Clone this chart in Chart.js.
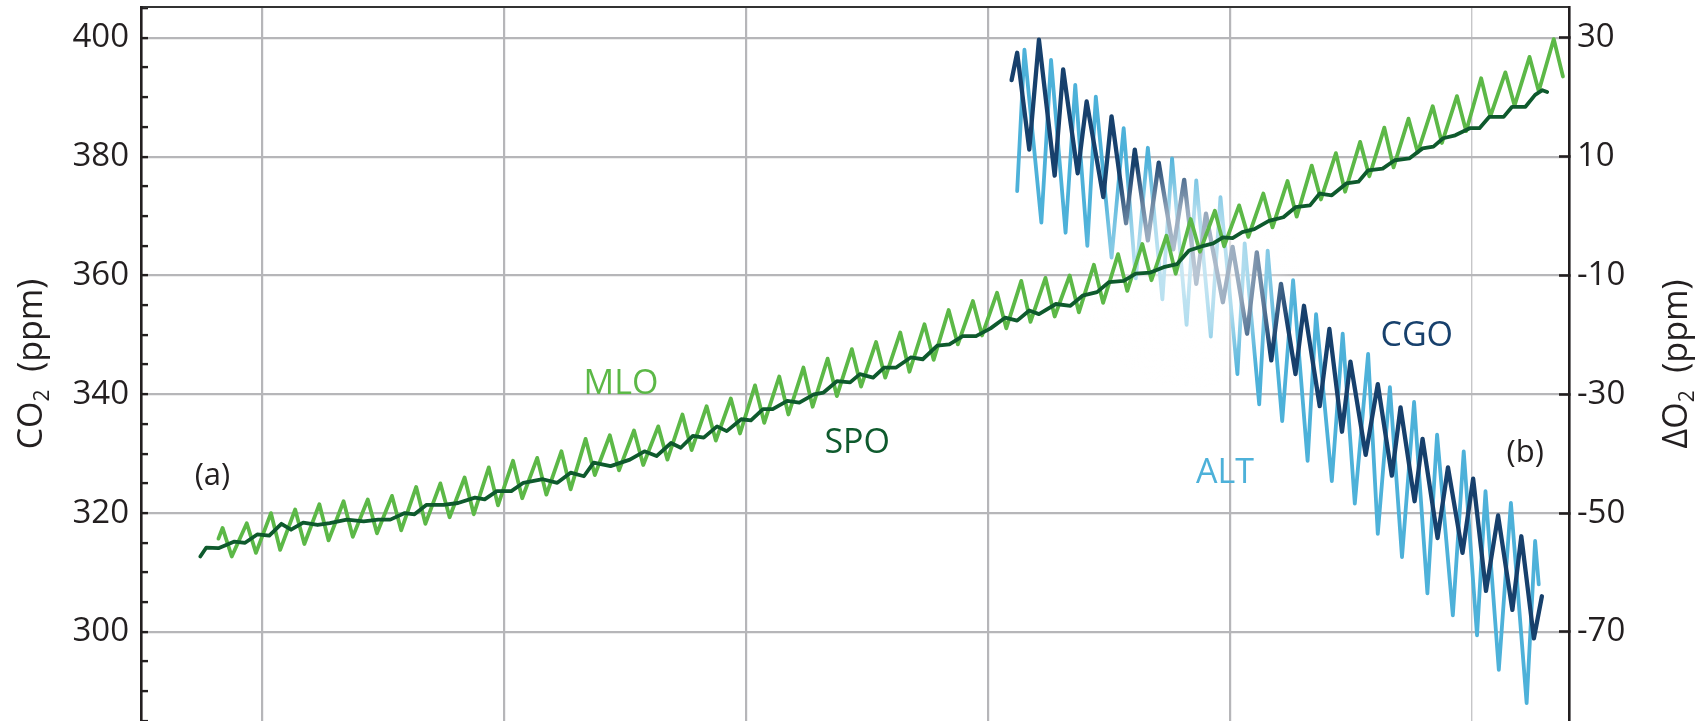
<!DOCTYPE html>
<html>
<head>
<meta charset="utf-8">
<script src="https://cdn.jsdelivr.net/npm/chart.js@4.4.1/dist/chart.umd.min.js"></script>
<style>
  html, body { margin: 0; padding: 0; background: #fff; overflow: hidden; }
  #wrap { width: 1708px; height: 721px; position: relative; }
</style>
</head>
<body>
<div id="wrap"><canvas id="chart"></canvas></div>
<script>
// Mauna Loa CO2 (ppm): yearly spring high and autumn low
const mloYears = [1958, 1959, 1960, 1961, 1962, 1963, 1964, 1965, 1966, 1967, 1968, 1969, 1970, 1971,
  1972, 1973, 1974, 1975, 1976, 1977, 1978, 1979, 1980, 1981, 1982, 1983, 1984, 1985, 1986, 1987,
  1988, 1989, 1990, 1991, 1992, 1993, 1994, 1995, 1996, 1997, 1998, 1999, 2000, 2001, 2002, 2003,
  2004, 2005, 2006, 2007, 2008, 2009, 2010, 2011, 2012, 2013]
const mloHigh = [317.5, 318.3, 320.0, 320.6, 321.5, 322.0, 322.3, 322.9, 324.4, 325.0, 326.0, 327.7,
  328.8, 329.3, 330.4, 332.5, 333.1, 333.9, 334.6, 336.6, 338.0, 339.3, 341.5, 343.0, 344.5, 346.0,
  347.6, 348.8, 350.4, 351.8, 354.2, 355.7, 357.1, 359.1, 359.6, 360.0, 361.8, 363.6, 365.3, 366.7,
  369.5, 370.9, 371.8, 373.8, 375.9, 378.5, 380.6, 382.5, 384.9, 386.4, 388.5, 390.2, 393.2, 394.2,
  396.8, 399.8]
const mloLow = [312.7, 313.3, 313.8, 314.8, 315.4, 316.0, 316.6, 317.1, 318.2, 319.3, 319.8, 321.3,
  322.5, 323.1, 324.0, 326.4, 327.2, 328.1, 329.0, 330.6, 332.2, 333.4, 335.2, 336.6, 337.9, 339.7,
  341.3, 342.8, 343.8, 345.8, 348.4, 349.9, 351.1, 352.2, 353.1, 353.8, 355.4, 357.4, 359.2, 360.3,
  364.0, 364.9, 366.5, 368.1, 369.9, 372.8, 374.1, 376.7, 378.2, 380.7, 382.3, 384.3, 386.8, 388.6,
  391.0, 393.5]
const mloStart = { x: 1958.2, y: 315.7 }

// South Pole CO2 (ppm)
const spoTime = [1957.45, 1957.7, 1958.2, 1958.86, 1959.3, 1959.8, 1960.3, 1960.8, 1961.2, 1961.7,
  1962.3, 1962.8, 1963.5, 1964.2, 1964.8, 1965.3, 1965.9, 1966.3, 1966.8, 1967.5, 1968.1, 1968.8,
  1969.2, 1969.7, 1970.3, 1970.8, 1971.6, 1972.2, 1972.75, 1973.3, 1973.7, 1974.4, 1975.2, 1975.8,
  1976.3, 1976.9, 1977.3, 1977.8, 1978.25, 1978.8, 1979.2, 1979.8, 1980.2, 1980.7, 1981.1, 1981.7,
  1982.2, 1982.8, 1983.2, 1983.75, 1984.3, 1984.7, 1985.25, 1985.7, 1986.2, 1986.8, 1987.3, 1987.9,
  1988.4, 1988.95, 1989.5, 1990.1, 1990.7, 1991.2, 1991.7, 1992.1, 1992.8, 1993.4, 1993.9, 1994.5,
  1995.0, 1995.6, 1996.1, 1996.7, 1997.25, 1997.8, 1998.3, 1998.9, 1999.3, 1999.7, 2000.1, 2000.5,
  2001.0, 2001.6, 2002.2, 2002.7, 2003.3, 2003.7, 2004.2, 2004.8, 2005.3, 2005.7, 2006.3, 2006.8,
  2007.4, 2007.95, 2008.4, 2008.8, 2009.3, 2009.9, 2010.3, 2010.7, 2011.3, 2011.65, 2012.2, 2012.6,
  2012.9, 2013.1]
const spoCO2 = [312.7, 314.2, 314.1, 315.2, 315.0, 316.4, 316.2, 318.2, 317.2, 318.4,
  318.0, 318.3, 318.9, 318.6, 318.9, 318.9, 320.0, 319.8, 321.4, 321.4, 321.7, 322.6,
  322.3, 323.7, 323.7, 325.1, 325.7, 325.1, 326.8, 326.2, 328.5, 327.9, 329.0, 330.4,
  329.6, 331.8, 331.0, 333.0, 332.7, 334.6, 333.8, 335.8, 335.6, 337.5, 337.5, 338.9,
  338.6, 340.0, 340.3, 342.2, 342.0, 343.4, 342.8, 344.5, 344.5, 346.2, 345.9, 348.2,
  348.4, 349.8, 349.8, 351.1, 352.9, 352.4, 354.1, 353.5, 355.2, 354.9, 356.6, 357.2,
  358.9, 359.1, 360.3, 360.5, 361.4, 361.9, 364.2, 365.0, 365.4, 366.4, 366.3, 367.3,
  367.8, 369.2, 369.8, 371.5, 371.8, 373.8, 373.5, 375.5, 375.8, 377.7, 378.0, 379.4,
  379.7, 381.4, 381.7, 383.1, 383.6, 384.8, 384.8, 386.7, 386.7, 388.4, 388.4, 390.4,
  391.2, 390.9]

// Alert O2 (ppm equivalent)
const altTime = [1991.2, 1991.5, 1992.2, 1992.6, 1993.2, 1993.6, 1994.1, 1994.45, 1995.1, 1995.6,
  1996.1, 1996.6, 1997.2, 1997.6, 1998.2, 1998.6, 1999.2, 1999.6, 2000.3, 2000.6, 2001.2, 2001.55,
  2002.15, 2002.6, 2003.2, 2003.55, 2004.2, 2004.65, 2005.15, 2005.7, 2006.1, 2006.6, 2007.1, 2007.6,
  2008.15, 2008.55, 2009.2, 2009.65, 2010.2, 2010.55, 2011.1, 2011.6, 2012.25, 2012.6, 2012.75]
const altO2 = [4.2, 28.0, -1.1, 26.3, -2.8, 22.1, -5.0, 20.1, -7.0, 14.8,
  -10.5, 11.5, -14.0, 9.7, -18.3, 6.0, -20.3, 3.2, -26.6, -4.6, -31.7, -5.8,
  -34.5, -10.8, -41.2, -16.5, -44.6, -19.8, -48.4, -23.2, -53.5, -28.8, -57.4, -31.3,
  -63.5, -36.8, -67.2, -39.6, -70.6, -46.3, -76.4, -48.3, -82.0, -54.7, -62.0]

// Cape Grim O2 (ppm equivalent)
const cgoTime = [1990.97, 1991.2, 1991.7, 1992.1, 1992.75, 1993.1, 1993.7, 1994.07, 1994.76, 1995.1,
  1995.7, 1996.06, 1996.6, 1997.05, 1997.65, 1998.1, 1998.6, 1999.0, 1999.7, 2000.1, 2000.7, 2001.1,
  2001.7, 2002.1, 2002.7, 2003.05, 2003.7, 2004.1, 2004.62, 2004.97, 2005.6, 2006.1, 2006.68, 2007.04,
  2007.62, 2007.95, 2008.57, 2009.0, 2009.6, 2010.04, 2010.57, 2011.07, 2011.66, 2012.03, 2012.55, 2012.88]
const cgoO2 = [22.9, 27.5, 11.2, 29.7, 6.8, 24.7, 7.2, 19.3, 3.2, 16.8,
  -1.2, 11.2, -4.1, 9.0, -5.6, 6.1, -11.4, 0.4, -14.5, -5.2, -19.8, -6.1,
  -24.3, -11.4, -26.6, -15.1, -32.0, -19.0, -36.3, -24.5, -40.2, -28.3, -43.7, -32.2,
  -48.0, -37.5, -54.2, -42.3, -56.7, -44.2, -63.1, -50.4, -66.3, -53.9, -71.1, -64.0]

const decades = [1960, 1970, 1980, 1990, 2000, 2010]
const co2Labels = [300, 320, 340, 360, 380, 400]
const o2Labels = [-70, -50, -30, -10, 10, 30]

// text placed on the plot, in data units
const notes = [
  { text: "(a)", year: 1957.95, value: 326.2, axis: "y" },
  { text: "MLO", year: 1974.83, value: 341.7, axis: "y" },
  { text: "SPO", year: 1984.59, value: 331.8, axis: "y" },
  { text: "CGO", year: 2007.71, value: -20.2, axis: "y2" },
  { text: "ALT", year: 1999.79, value: -43.3, axis: "y2" },
  { text: "(b)", year: 2012.19, value: -39.9, axis: "y2" },
]

const ink = "#231f20"
const colors = {
  MLO: "#5cb847",
  SPO: "#0e5a2d",
  ALT: "#4db1d9",
  CGO: "#17406c",
  "(a)": ink,
  "(b)": ink,
}
const fontFamily = '"Open Sans", "Noto Sans", sans-serif'

function seasonalPoints() {
  const pts = [mloStart]
  mloYears.forEach((yr, i) => {
    pts.push({ x: yr + 0.37, y: mloHigh[i] })
    pts.push({ x: yr + 0.75, y: mloLow[i] })
  })
  return pts
}

function pairs(xs, ys) {
  return xs.map((x, i) => ({ x: x, y: ys[i] }))
}

function drawVertical(ctx, parts, cx, cy, size) {
  ctx.save()
  ctx.translate(cx, cy)
  ctx.rotate(-Math.PI / 2)
  const fonts = parts.map((p) => (p.sub ? Math.round(size * 0.62) : size) + "px " + fontFamily)
  let total = 0
  const widths = parts.map((p, i) => {
    ctx.font = fonts[i]
    const w = ctx.measureText(p.t).width
    total += w
    return w
  })
  let x = -total / 2
  ctx.fillStyle = ink
  ctx.textAlign = "left"
  ctx.textBaseline = "alphabetic"
  parts.forEach((p, i) => {
    ctx.font = fonts[i]
    ctx.fillText(p.t, x, size * 0.36 + (p.sub ? size * 0.2 : 0))
    x += widths[i]
  })
  ctx.restore()
}

const decorations = {
  id: "decorations",
  beforeDatasetDraw(chart, args) {
    // pale haze where the two panels cross
    if (chart.data.datasets[args.index].label !== "MLO") return
    const { ctx, chartArea, scales } = chart
    const cx = scales.x.getPixelForValue(1998.3)
    const cy = scales.y.getPixelForValue(361)
    const rx = scales.x.getPixelForValue(1998.3 + 4.6) - cx
    const ry = scales.y.getPixelForValue(361 - 20) - cy
    ctx.save()
    ctx.beginPath()
    ctx.rect(chartArea.left, chartArea.top, chartArea.right - chartArea.left, chartArea.bottom - chartArea.top)
    ctx.clip()
    ctx.translate(cx, cy)
    ctx.scale(rx / ry, 1)
    const g = ctx.createRadialGradient(0, 0, 0, 0, 0, ry)
    g.addColorStop(0, "rgba(255,255,255,0.72)")
    g.addColorStop(0.5, "rgba(255,255,255,0.55)")
    g.addColorStop(1, "rgba(255,255,255,0)")
    ctx.fillStyle = g
    ctx.beginPath()
    ctx.arc(0, 0, ry, 0, 2 * Math.PI)
    ctx.fill()
    ctx.restore()
  },
  afterDraw(chart) {
    const { ctx, chartArea, scales } = chart
    ctx.save()
    ctx.textAlign = "center"
    ctx.textBaseline = "middle"
    notes.forEach((n) => {
      ctx.font = (n.text[0] === "(" ? 31 : 34) + "px " + fontFamily
      ctx.fillStyle = colors[n.text]
      ctx.fillText(n.text, scales.x.getPixelForValue(n.year), scales[n.axis].getPixelForValue(n.value))
    })
    ctx.restore()
    const midY = (chartArea.top + chartArea.bottom) / 2
    drawVertical(ctx, [{ t: "CO" }, { t: "2", sub: true }, { t: "  (ppm)" }], scales.y.left + 30, midY, 34)
    drawVertical(ctx, [{ t: "\u0394O" }, { t: "2", sub: true }, { t: "  (ppm)" }], scales.y2.right - 33, midY, 34)
  },
}

const lineStyle = {
  pointRadius: 0,
  tension: 0,
  borderJoinStyle: "round",
  borderCapStyle: "round",
  fill: false,
}

new Chart(document.getElementById("chart"), {
  type: "line",
  data: {
    datasets: [
      { ...lineStyle, label: "SPO", data: pairs(spoTime, spoCO2), yAxisID: "y", borderColor: colors.SPO, borderWidth: 3.8, order: 0 },
      { ...lineStyle, label: "MLO", data: seasonalPoints(), yAxisID: "y", borderColor: colors.MLO, borderWidth: 3.8, order: 1 },
      { ...lineStyle, label: "CGO", data: pairs(cgoTime, cgoO2), yAxisID: "y2", borderColor: colors.CGO, borderWidth: 4.3, order: 2 },
      { ...lineStyle, label: "ALT", data: pairs(altTime, altO2), yAxisID: "y2", borderColor: colors.ALT, borderWidth: 3.8, order: 3 },
    ],
  },
  options: {
    responsive: true,
    maintainAspectRatio: false,
    animation: false,
    events: [],
    layout: { autoPadding: false, padding: { top: 7, left: 0, right: 0, bottom: 0 } },
    plugins: { legend: { display: false }, tooltip: { enabled: false } },
    scales: {
      x: {
        type: "linear",
        position: "bottom",
        min: 1955,
        max: 2014,
        afterBuildTicks: (s) => { s.ticks = decades.map((v) => ({ value: v })) },
        afterFit: (s) => { s.height = 0; s.paddingLeft = 0; s.paddingRight = 0 },
        ticks: { display: false },
        border: { display: false },
        grid: {
          drawTicks: false,
          color: (c) => (c.tick && c.tick.value === 2010 ? "#c6c6c8" : "#b6b6b9"),
          lineWidth: (c) => (c.tick && c.tick.value === 2010 ? 1.4 : 2.2),
        },
      },
      xTop: {
        type: "linear",
        position: "top",
        ticks: { display: false },
        grid: { display: false, drawTicks: false },
        border: { display: true, color: "#333", width: 2 },
        afterFit: (s) => { s.height = 0 },
      },
      y: {
        type: "linear",
        position: "left",
        min: 285,
        max: 405.2,
        afterFit: (s) => { s.width = 141; s.paddingTop = 0; s.paddingBottom = 0 },
        ticks: {
          stepSize: 5,
          includeBounds: false,
          autoSkip: false,
          padding: 19,
          color: ink,
          font: { family: fontFamily, size: 33 },
          callback: (v) => (co2Labels.includes(v) ? String(v) : ""),
        },
        border: { color: ink, width: 2.6 },
        grid: {
          color: (c) => (c.tick && co2Labels.includes(c.tick.value) ? "#b6b6b9" : "rgba(0,0,0,0)"),
          lineWidth: 2.2,
          tickLength: -7,
          tickColor: ink,
          tickWidth: 2.4,
        },
      },
      y2: {
        type: "linear",
        position: "right",
        min: -85,
        max: 35.2,
        afterBuildTicks: (s) => { s.ticks = o2Labels.map((v) => ({ value: v })) },
        afterFit: (s) => { s.width = 139; s.paddingTop = 0; s.paddingBottom = 0 },
        ticks: {
          autoSkip: false,
          padding: 18,
          color: ink,
          font: { family: fontFamily, size: 33 },
          callback: (v) => String(v),
        },
        border: { color: ink, width: 2.6 },
        grid: {
          drawOnChartArea: false,
          tickLength: -10,
          tickColor: ink,
          tickWidth: 2.6,
        },
      },
    },
  },
  plugins: [decorations],
})
</script>
</body>
</html>
